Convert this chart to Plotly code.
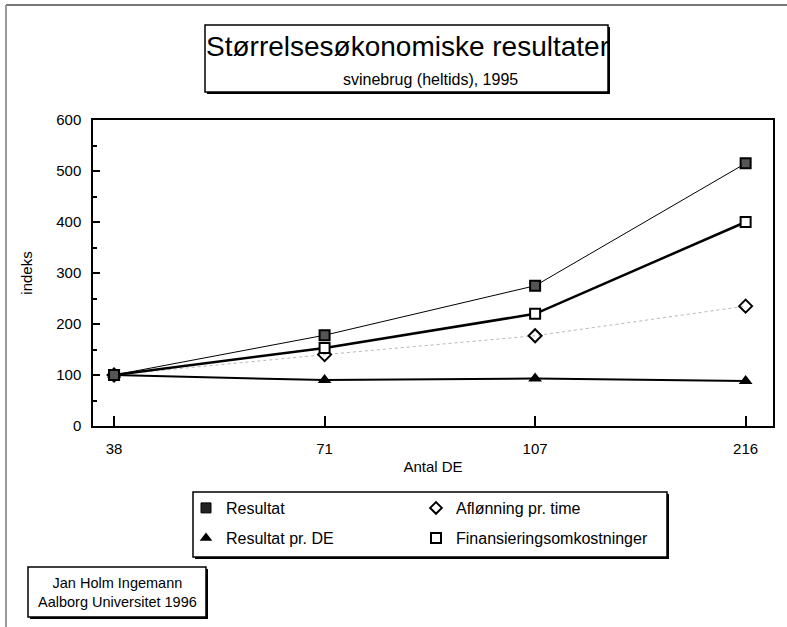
import plotly.graph_objects as go

# data
antal_de = ["38", "71", "107", "216"]
resultat = [100, 178, 275, 515]
afloenning = [100, 140, 177, 235]
resultat_pr_de = [100, 90, 93, 88]
finansiering = [100, 153, 220, 400]

FONT = "Liberation Sans, Arial, sans-serif"
W, H = 787, 627
L, R, T, B = 93, 14, 120, 201
PW, PH = W - L - R, H - T - B


def px(x):
    return (x - L) / PW


def py(y):
    return (H - B - y) / PH


fig = go.Figure()

# series lines (drawn without legend entries)
fig.add_trace(go.Scatter(
    x=antal_de, y=afloenning, mode="lines+markers", showlegend=False,
    line=dict(color="#b8b8b8", width=1, dash="dot"),
    marker=dict(symbol="diamond-open", size=10, color="black", line=dict(width=2)),
))
fig.add_trace(go.Scatter(
    x=antal_de, y=resultat_pr_de, mode="lines+markers", showlegend=False,
    line=dict(color="black", width=2),
    marker=dict(symbol="triangle-up", size=12, color="black"),
))
fig.add_trace(go.Scatter(
    x=antal_de, y=finansiering, mode="lines+markers", showlegend=False,
    line=dict(color="black", width=2.5),
    marker=dict(symbol="square", size=10, color="white", line=dict(width=2, color="black")),
))
fig.add_trace(go.Scatter(
    x=antal_de, y=resultat, mode="lines+markers", showlegend=False,
    line=dict(color="black", width=1),
    marker=dict(symbol="square", size=10, color="#555555", line=dict(width=2, color="black")),
))

# legend-only entries (marker only, as in the original), one legend per cell
legend_items = [
    ("Resultat", "legend", dict(symbol="square", size=10, color="#222222", line=dict(width=1, color="black"))),
    ("Aflønning pr. time", "legend2", dict(symbol="diamond-open", size=9, color="black", line=dict(width=2))),
    ("Resultat pr. DE", "legend3", dict(symbol="triangle-up", size=11, color="black")),
    ("Finansieringsomkostninger", "legend4", dict(symbol="square", size=10, color="white", line=dict(width=2, color="black"))),
]
for name, lg, mk in legend_items:
    fig.add_trace(go.Scatter(x=[None], y=[None], mode="markers", name=name, legend=lg, marker=mk))


def boxed(x0, y0, x1, y1):
    # shadowed box in pixel coordinates
    fig.add_shape(type="rect", xref="paper", yref="paper",
                  x0=px(x0 + 2), x1=px(x1 + 2), y0=py(y1 + 2), y1=py(y0 + 2),
                  fillcolor="black", line=dict(width=0), layer="below")
    fig.add_shape(type="rect", xref="paper", yref="paper",
                  x0=px(x0), x1=px(x1), y0=py(y1), y1=py(y0),
                  fillcolor="white", line=dict(width=1.5, color="black"), layer="below")


boxed(205, 25, 608, 92)
boxed(193, 492, 667, 557)
boxed(28, 567, 206, 617)

fig.add_annotation(text="Størrelsesøkonomiske resultater", xref="paper", yref="paper",
                   x=px(407), y=py(47), xanchor="center", yanchor="middle", showarrow=False,
                   font=dict(family=FONT, size=28, color="black"))
fig.add_annotation(text="svinebrug (heltids), 1995", xref="paper", yref="paper",
                   x=px(430), y=py(79), xanchor="center", yanchor="middle", showarrow=False,
                   font=dict(family=FONT, size=16, color="black"))
fig.add_annotation(text="Jan Holm Ingemann<br>Aalborg Universitet 1996", xref="paper", yref="paper",
                   x=px(117), y=py(592), xanchor="center", yanchor="middle", showarrow=False,
                   align="center", font=dict(family=FONT, size=14.5, color="black"))

# page border (top and left)
fig.add_shape(type="line", xref="paper", yref="paper",
              x0=px(6), x1=px(787), y0=py(5), y1=py(5), line=dict(color="#777777", width=2))
fig.add_shape(type="line", xref="paper", yref="paper",
              x0=px(6), x1=px(6), y0=py(5), y1=py(627), line=dict(color="#999999", width=2))

legend_style = dict(
    orientation="v", xanchor="left", yanchor="middle", bgcolor="rgba(0,0,0,0)",
    font=dict(family=FONT, size=16), itemwidth=30,
)

fig.update_layout(
    width=W, height=H,
    margin=dict(l=L, r=R, t=T, b=B),
    paper_bgcolor="white", plot_bgcolor="white",
    font=dict(family=FONT, size=15, color="black"),
    legend=dict(x=px(186), y=py(508), **legend_style),
    legend2=dict(x=px(416), y=py(508), **legend_style),
    legend3=dict(x=px(186), y=py(538), **legend_style),
    legend4=dict(x=px(416), y=py(538), **legend_style),
    xaxis=dict(
        type="category", range=[-0.1, 3.13], showgrid=False, zeroline=False,
        showline=True, linecolor="black", linewidth=1.5, mirror=True,
        ticks="inside", ticklen=10, tickcolor="black", tickwidth=1.5,
        ticklabelstandoff=8,
        title=dict(text="Antal DE", standoff=6, font=dict(size=15)),
        tickfont=dict(size=15),
    ),
    yaxis=dict(
        range=[0, 600], dtick=100, showgrid=False, zeroline=False,
        showline=True, linecolor="black", linewidth=1.5, mirror=True,
        ticks="inside", ticklen=7, tickcolor="black", tickwidth=1.5,
        ticklabelstandoff=7,
        minor=dict(dtick=50, ticks="inside", ticklen=4, tickcolor="black", showgrid=False),
        title=dict(text="indeks", standoff=20, font=dict(size=15)),
        tickfont=dict(size=15),
    ),
)

fig.write_html("out.html", config={"displayModeBar": False},
               post_script="document.body.style.margin='0';")
